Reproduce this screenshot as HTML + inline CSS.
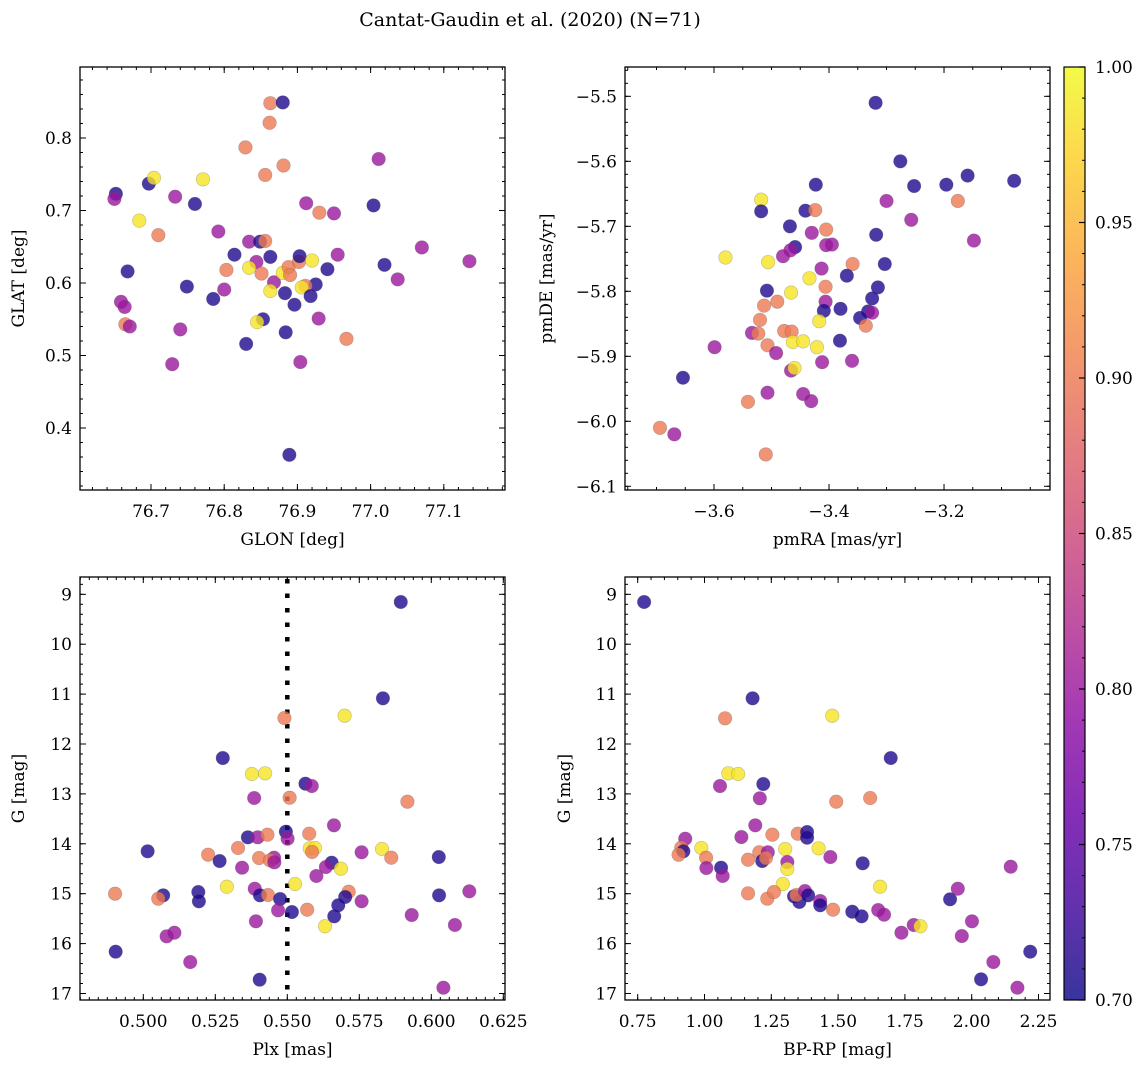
<!DOCTYPE html>
<html><head><meta charset="utf-8"><style>
html,body{margin:0;padding:0;background:#fff;}
svg{display:block;font-family:"DejaVu Serif","Liberation Serif",serif;}
</style></head><body>
<svg id="fig" width="1148" height="1067" viewBox="0 0 1148 1067" xmlns="http://www.w3.org/2000/svg">
<text x="530" y="26" font-size="19" text-anchor="middle">Cantat-Gaudin et al. (2020) (N=71)</text>
</svg>
<script>
// ---- data ----
// colour classes: 0.71 dark blue, 0.80 purple, 0.90 salmon, 0.985 yellow
const B=0.71,P=0.80,S=0.90,Y=0.985;
const glon=[76.652,76.650,76.697,76.704,76.771,76.733,76.760,76.684,76.710,76.668,76.659,76.664,76.665,76.671,76.740,76.729,76.749,76.785,76.800,76.803,76.792,76.829,76.863,76.880,76.862,76.856,76.881,76.912,76.930,76.950,77.011,77.004,76.834,76.849,76.856,76.814,76.863,76.844,76.834,76.851,76.868,76.863,76.883,76.896,76.880,76.888,76.890,76.902,76.903,76.920,76.941,76.955,76.925,76.911,76.906,76.918,76.853,76.845,76.884,76.830,76.929,76.904,76.967,77.037,77.019,77.070,77.135,76.889];
const glat=[0.723,0.716,0.737,0.745,0.743,0.719,0.709,0.686,0.666,0.616,0.574,0.567,0.543,0.540,0.536,0.488,0.595,0.578,0.591,0.618,0.671,0.787,0.848,0.849,0.821,0.749,0.762,0.710,0.697,0.696,0.771,0.707,0.657,0.657,0.658,0.639,0.636,0.629,0.621,0.613,0.601,0.589,0.586,0.570,0.614,0.622,0.611,0.629,0.637,0.631,0.619,0.639,0.598,0.596,0.594,0.582,0.550,0.546,0.532,0.516,0.551,0.491,0.523,0.605,0.625,0.649,0.630,0.363];
const cTL=[B,P,B,Y,Y,P,B,Y,S,B,P,P,S,P,P,P,B,B,P,S,P,S,S,B,S,S,S,P,S,P,P,B,P,B,S,B,B,P,Y,S,P,Y,B,B,Y,S,S,S,B,Y,B,P,B,S,Y,B,B,Y,B,B,P,P,S,P,B,P,P,B];

const pmra=[-3.319,-3.276,-3.252,-3.196,-3.159,-3.078,-3.176,-3.300,-3.257,-3.148,-3.318,-3.303,-3.315,-3.325,-3.332,-3.325,-3.346,-3.336,-3.381,-3.360,-3.359,-3.369,-3.380,-3.423,-3.441,-3.424,-3.405,-3.430,-3.405,-3.395,-3.468,-3.459,-3.467,-3.480,-3.518,-3.518,-3.580,-3.506,-3.413,-3.434,-3.406,-3.466,-3.508,-3.490,-3.513,-3.406,-3.409,-3.417,-3.520,-3.534,-3.523,-3.478,-3.465,-3.463,-3.445,-3.421,-3.507,-3.492,-3.599,-3.412,-3.466,-3.460,-3.654,-3.507,-3.445,-3.431,-3.541,-3.694,-3.669,-3.510];
const pmde=[-5.510,-5.600,-5.638,-5.636,-5.622,-5.630,-5.661,-5.661,-5.690,-5.722,-5.713,-5.758,-5.794,-5.811,-5.831,-5.833,-5.841,-5.853,-5.876,-5.907,-5.758,-5.776,-5.827,-5.636,-5.676,-5.675,-5.705,-5.710,-5.729,-5.728,-5.700,-5.732,-5.737,-5.746,-5.659,-5.677,-5.748,-5.755,-5.765,-5.780,-5.793,-5.802,-5.799,-5.816,-5.822,-5.816,-5.830,-5.846,-5.844,-5.864,-5.865,-5.861,-5.862,-5.878,-5.877,-5.886,-5.883,-5.895,-5.886,-5.909,-5.922,-5.918,-5.933,-5.956,-5.958,-5.969,-5.970,-6.010,-6.020,-6.051];
const cTR=[B,B,B,B,B,B,S,P,P,P,B,B,B,B,B,P,B,S,B,P,S,B,B,B,B,S,S,P,P,P,B,B,P,P,Y,B,Y,Y,P,Y,S,Y,B,S,S,P,B,Y,S,P,S,S,S,Y,Y,Y,S,P,P,P,P,Y,B,P,P,P,S,S,P,S];

const plx=[0.5894,0.5832,0.5699,0.5490,0.5276,0.5377,0.5423,0.5563,0.5585,0.5385,0.5508,0.5917,0.5662,0.5495,0.5501,0.5576,0.5363,0.5397,0.5431,0.5329,0.5225,0.5015,0.5265,0.5402,0.5454,0.5440,0.5455,0.5343,0.5578,0.5596,0.5586,0.5654,0.5634,0.5686,0.5601,0.5758,0.5829,0.5861,0.6026,0.5290,0.5387,0.5405,0.5433,0.5475,0.5527,0.5713,0.5701,0.5677,0.5663,0.5758,0.5569,0.5516,0.5468,0.5391,0.5631,0.6027,0.6132,0.5932,0.6082,0.4902,0.5069,0.5052,0.5191,0.5193,0.5081,0.5108,0.4904,0.5163,0.5404,0.6042];
const gBL=[9.154,11.084,11.433,11.479,12.281,12.601,12.587,12.796,12.842,13.082,13.076,13.156,13.629,13.757,13.898,13.798,13.870,13.870,13.818,14.084,14.218,14.150,14.345,14.285,14.279,14.331,14.371,14.479,14.090,14.084,14.164,14.379,14.465,14.499,14.645,14.170,14.104,14.279,14.265,14.860,14.900,15.032,15.026,15.106,14.806,14.960,15.066,15.232,15.453,15.152,15.321,15.367,15.333,15.553,15.653,15.032,14.952,15.427,15.627,15.000,15.032,15.100,14.966,15.152,15.854,15.782,16.162,16.369,16.723,16.884];
const cBL=[B,B,Y,S,B,Y,Y,B,P,P,S,S,P,B,P,S,B,P,S,S,S,B,B,S,P,S,P,P,Y,Y,S,B,P,Y,P,P,Y,S,B,Y,P,B,S,B,Y,S,B,B,B,P,S,B,P,P,Y,B,P,P,P,S,B,S,B,B,P,P,B,P,B,P];

const bprp=[0.774,1.180,1.077,1.478,1.697,1.089,1.126,1.220,1.058,1.207,1.493,1.620,1.190,0.928,1.138,1.254,1.349,1.384,1.384,0.913,0.921,0.903,0.988,1.006,1.007,1.062,1.068,1.163,1.205,1.216,1.237,1.230,1.302,1.310,1.310,1.427,1.471,1.592,1.293,1.163,1.235,1.260,1.335,1.355,1.344,1.376,1.388,1.433,1.433,1.481,1.553,1.588,1.650,1.672,1.657,1.737,1.783,1.808,1.919,1.948,1.963,2.001,2.146,2.219,2.081,2.035,2.171];
const gBR=[9.154,11.084,11.485,11.433,12.281,12.587,12.601,12.802,12.842,13.088,13.156,13.082,13.629,13.898,13.864,13.818,13.798,13.764,13.878,14.077,14.150,14.218,14.084,14.279,14.485,14.479,14.645,14.319,14.170,14.345,14.170,14.285,14.104,14.365,14.505,14.090,14.265,14.391,14.806,14.992,15.100,14.966,15.052,15.166,15.026,14.946,15.032,15.146,15.232,15.321,15.361,15.453,15.327,15.421,14.860,15.782,15.627,15.653,15.112,14.900,15.848,15.553,14.459,16.162,16.369,16.716,16.884];
const cBR=[B,B,S,Y,B,Y,Y,B,P,P,S,S,P,P,P,S,S,B,B,S,B,S,Y,S,P,B,P,S,S,B,P,S,Y,P,Y,Y,P,B,Y,S,S,S,B,B,S,P,B,P,B,S,B,B,P,P,Y,P,P,Y,B,P,P,P,P,B,P,B,P];

const plxLine=[0.550];
const cbTicks=[0.70,0.75,0.80,0.85,0.90,0.95,1.00];

// ---- helpers ----
const NS="http://www.w3.org/2000/svg";
const svg=document.getElementById('fig');
function el(tag,attrs,parent){const e=document.createElementNS(NS,tag);for(const k in attrs)e.setAttribute(k,attrs[k]);(parent||svg).appendChild(e);return e;}
const stops=[[0,"#0d0887"],[0.1,"#41049d"],[0.2,"#6a00a8"],[0.3,"#8f0da4"],[0.4,"#b12a90"],[0.5,"#cc4778"],[0.6,"#e16462"],[0.7,"#f2844b"],[0.8,"#fca636"],[0.9,"#fcce25"],[1,"#f0f921"]];
function hex(h){return [1,3,5].map(i=>parseInt(h.substr(i,2),16));}
function plasma(t){t=Math.max(0,Math.min(1,t));for(let i=1;i<stops.length;i++){if(t<=stops[i][0]){const a=stops[i-1],b=stops[i];const f=(t-a[0])/(b[0]-a[0]);const ca=hex(a[1]),cb=hex(b[1]);return 'rgb('+ca.map((v,j)=>Math.round(v+(cb[j]-v)*f)).join(',')+')';}}return stops[10][1];}
const cnorm=v=>(v-0.70)/0.30;
function fmt(v,d){return (v<0?'\u2212':'')+Math.abs(v).toFixed(d);}

function panel(cfg){
  const {name,x0,x1,y0,y1,xd,yd,xMaj,xMin,yMaj,yMin,xdec,ydec,xlabel,ylabel}=cfg;
  const g=el('g',{});
  
  
  const sx=v=>x0+(v-xd[0])/(xd[1]-xd[0])*(x1-x0);
  const sy=v=>y0+(v-yd[0])/(yd[1]-yd[0])*(y1-y0);
  const ticks=el('g',{stroke:'#000','stroke-width':1},g);
  
  
  const rng=(a,b,s)=>{const r=[];const lo=Math.min(a,b),hi=Math.max(a,b);for(let v=Math.ceil(lo/s-1e-6)*s;v<=hi+1e-9;v+=s)r.push(+v.toFixed(6));return r;};
  rng(xd[0],xd[1],xMin).forEach(v=>{const X=sx(v);el('line',{x1:X,x2:X,y1:y1,y2:y1-3},ticks);el('line',{x1:X,x2:X,y1:y0,y2:y0+3},ticks);});
  rng(yd[0],yd[1],yMin).forEach(v=>{const Yv=sy(v);el('line',{x1:x0,x2:x0+3,y1:Yv,y2:Yv},ticks);el('line',{x1:x1,x2:x1-3,y1:Yv,y2:Yv},ticks);});
  rng(xd[0],xd[1],xMaj).forEach(v=>{const X=sx(v);el('line',{x1:X,x2:X,y1:y1,y2:y1-6},ticks);el('line',{x1:X,x2:X,y1:y0,y2:y0+6},ticks);
    const t=el('text',{x:X,y:y1+27,'font-size':17,'text-anchor':'middle'},g);t.textContent=fmt(v,xdec);
    });
  rng(yd[0],yd[1],yMaj).forEach(v=>{const Yv=sy(v);el('line',{x1:x0,x2:x0+6,y1:Yv,y2:Yv},ticks);el('line',{x1:x1,x2:x1-6,y1:Yv,y2:Yv},ticks);
    const t=el('text',{x:x0-8,y:Yv+6,'font-size':17,'text-anchor':'end'},g);t.textContent=fmt(v,ydec);
    });
  const xl=el('text',{x:(x0+x1)/2,y:y1+55,'font-size':17,'text-anchor':'middle'},g);xl.textContent=xlabel;
  
  const yx=cfg.ylabX, yc=(y0+y1)/2;
  const yl=el('text',{x:yx,y:yc,'font-size':17,'text-anchor':'middle',transform:'rotate(-90 '+yx+' '+yc+')'},g);yl.textContent=ylabel;
  
  const frame=el('rect',{x:x0,y:y0,width:x1-x0,height:y1-y0,fill:'none',stroke:'#000','stroke-width':1.3},g);
  
  return {g,sx,sy};
}
function scatter(p,name,xs,ys,cs){
  const n=Math.min(xs.length,ys.length,cs.length);
  for(let i=0;i<n;i++){
    const c=el('circle',{cx:p.sx(xs[i]),cy:p.sy(ys[i]),r:6.8,fill:plasma(cnorm(cs[i])),'fill-opacity':0.8,stroke:'#555','stroke-opacity':0.35,'stroke-width':0.6},p.g);
    
    
  }
}

const tl=panel({name:'glon-glat-panel',x0:80,x1:505,y0:67,y1:490,xd:[76.603,77.1836],yd:[0.8979,0.3145],xMaj:0.1,xMin:0.02,yMaj:0.1,yMin:0.02,xdec:1,ydec:1,xlabel:'GLON [deg]',ylabel:'GLAT [deg]',ylabX:24});
scatter(tl,'glon-glat',glon,glat,cTL);
const tr=panel({name:'pm-panel',x0:625,x1:1050,y0:67,y1:490,xd:[-3.7548,-3.0157],yd:[-5.4549,-6.1057],xMaj:0.2,xMin:0.05,yMaj:0.1,yMin:0.02,xdec:1,ydec:1,xlabel:'pmRA [mas/yr]',ylabel:'pmDE [mas/yr]',ylabX:552});
scatter(tr,'pm',pmra,pmde,cTR);
const bl=panel({name:'plx-g-panel',x0:80,x1:505,y0:577,y1:1000,xd:[0.47802,0.62559],yd:[8.653,17.1303],xMaj:0.025,xMin:0.003125,yMaj:1,yMin:0.2,xdec:3,ydec:0,xlabel:'Plx [mas]',ylabel:'G [mag]',ylabX:24});
plxLine.forEach(v=>{const X=bl.sx(v);const l=el('line',{x1:X,x2:X,y1:579,y2:1000,stroke:'#000','stroke-width':4.5,'stroke-dasharray':'4.5 10'},bl.g);
  });
scatter(bl,'plx-g',plx,gBL,cBL);
const br=panel({name:'color-mag-panel',x0:625,x1:1050,y0:577,y1:1000,xd:[0.70247,2.29302],yd:[8.653,17.1303],xMaj:0.25,xMin:0.05,yMaj:1,yMin:0.2,xdec:2,ydec:0,xlabel:'BP-RP [mag]',ylabel:'G [mag]',ylabX:570});
scatter(br,'color-mag',bprp,gBR,cBR);

// colorbar
const cb=el('g',{});


const defs=el('defs',{},cb);
const lg=el('linearGradient',{id:'cbg',x1:0,y1:1,x2:0,y2:0},defs);
stops.forEach(s=>el('stop',{offset:s[0],'stop-color':s[1],'stop-opacity':0.82},lg));
const cbx0=1064,cbx1=1085,cby0=67,cby1=1000;
el('rect',{x:cbx0,y:cby0,width:cbx1-cbx0,height:cby1-cby0,fill:'url(#cbg)',stroke:'#000','stroke-width':1.2},cb);
const cy=v=>cby1-(v-0.70)/0.30*(cby1-cby0);
for(let k=0;k<=30;k++){const v=0.70+k*0.01;const Yv=cy(v);el('line',{x1:cbx1,x2:cbx1-3,y1:Yv,y2:Yv,stroke:'#000'},cb);}
cbTicks.forEach(v=>{const Yv=cy(v);el('line',{x1:cbx1,x2:cbx1-6,y1:Yv,y2:Yv,stroke:'#000','stroke-width':1.2},cb);
  const t=el('text',{x:cbx1+10,y:Yv+6,'font-size':17},cb);t.textContent=v.toFixed(2);
  });
</script>
</body></html>
